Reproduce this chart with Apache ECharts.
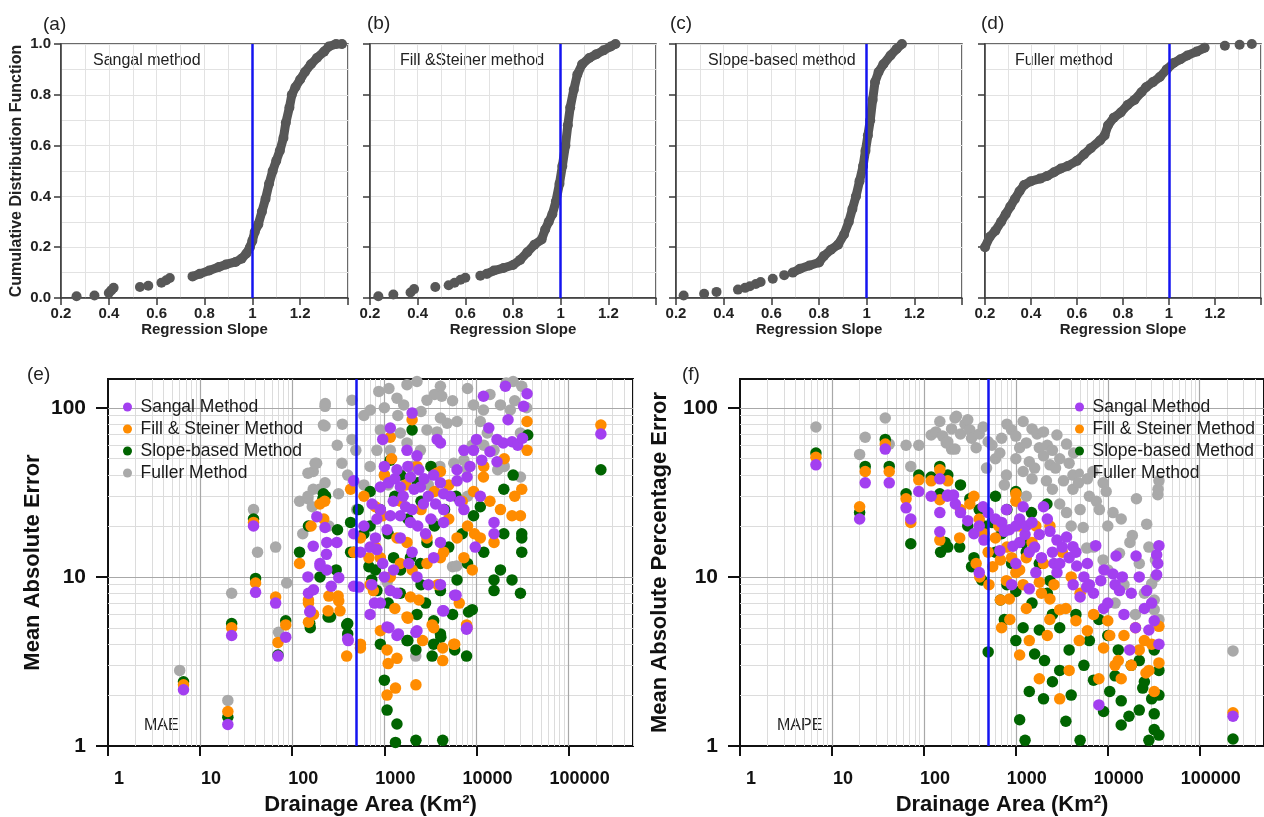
<!DOCTYPE html>
<html lang="en">
<head>
<meta charset="UTF-8">
<title>Regression slope CDF and errors vs drainage area</title>
<script src="https://cdn.jsdelivr.net/npm/echarts@6.0.0/dist/echarts.min.js"></script>
<style>
  html, body { margin: 0; padding: 0; background: #fff; }
  #chart { width: 1264px; height: 817px; }
</style>
</head>
<body>
<div id="chart"></div>
<script>
// ---- top row: CDF of regression slope (isolated tail dots + dense part) ----
var cdfSangalTail = [[0.265,0.007],[0.34,0.01],[0.40,0.02],[0.41,0.03],[0.42,0.04],[0.53,0.043],[0.565,0.048],[0.62,0.06],[0.64,0.07],[0.655,0.079]];
var cdfSangalCurve = [[0.75,0.085],[0.78,0.095],[0.82,0.108],[0.86,0.122],[0.89,0.132],[0.93,0.142],[0.955,0.155],[0.975,0.175],[0.99,0.2],[1.0,0.225],[1.01,0.26],[1.025,0.29],[1.04,0.34],[1.055,0.39],[1.07,0.45],[1.085,0.5],[1.1,0.54],[1.115,0.58],[1.13,0.63],[1.14,0.69],[1.155,0.75],[1.165,0.8],[1.18,0.83],[1.2,0.86],[1.22,0.89],[1.245,0.92],[1.27,0.945],[1.3,0.97],[1.32,0.99],[1.35,1.0],[1.375,1.0]];

var cdfFillTail = [[0.235,0.007],[0.298,0.014],[0.37,0.022],[0.385,0.035],[0.474,0.043],[0.53,0.05],[0.555,0.06],[0.58,0.072],[0.6,0.08],[0.663,0.088]];
var cdfFillCurve = [[0.69,0.095],[0.72,0.108],[0.76,0.118],[0.8,0.13],[0.83,0.15],[0.86,0.18],[0.89,0.21],[0.92,0.23],[0.935,0.27],[0.95,0.3],[0.965,0.33],[0.98,0.38],[0.995,0.45],[1.007,0.52],[1.02,0.6],[1.03,0.68],[1.04,0.75],[1.055,0.82],[1.07,0.88],[1.09,0.92],[1.12,0.945],[1.15,0.96],[1.18,0.975],[1.21,0.99],[1.23,1.0]];

var cdfSlopeTail = [[0.232,0.01],[0.318,0.017],[0.37,0.024],[0.46,0.033],[0.49,0.04],[0.51,0.046],[0.535,0.055],[0.555,0.063],[0.606,0.076],[0.654,0.09]];
var cdfSlopeCurve = [[0.69,0.1],[0.72,0.115],[0.76,0.128],[0.8,0.14],[0.82,0.165],[0.85,0.19],[0.88,0.21],[0.905,0.25],[0.925,0.3],[0.94,0.35],[0.955,0.4],[0.97,0.46],[0.985,0.52],[0.995,0.58],[1.005,0.64],[1.015,0.7],[1.025,0.78],[1.035,0.85],[1.05,0.89],[1.07,0.92],[1.1,0.955],[1.125,0.98],[1.148,1.0]];

var cdfFullerTail = [[1.243,0.993],[1.307,0.997],[1.36,1.0]];
var cdfFullerCurve = [[0.2,0.2],[0.22,0.24],[0.245,0.265],[0.27,0.3],[0.29,0.33],[0.31,0.36],[0.33,0.39],[0.35,0.42],[0.37,0.445],[0.4,0.46],[0.44,0.47],[0.47,0.48],[0.5,0.495],[0.53,0.51],[0.56,0.52],[0.6,0.54],[0.63,0.565],[0.66,0.59],[0.7,0.62],[0.72,0.64],[0.735,0.68],[0.76,0.71],[0.79,0.73],[0.82,0.76],[0.85,0.78],[0.88,0.81],[0.9,0.83],[0.93,0.85],[0.96,0.87],[0.99,0.9],[1.02,0.925],[1.05,0.94],[1.08,0.955],[1.12,0.97],[1.155,0.985]];

// ---- (e) MAE vs drainage area [area km2, error] ----
var maeFuller = [[6,2.8],[20,1.86],[22,8.0],[38,25],[42,14],[66,15],[71,4.7],[87,9.2],[120,28],[130,18],[148,29],[165,26],[169,42],[169,33],[184,47],[227,102],[227,78],[227,36],[228,106],[218,79],[250,20],[308,60],[177,47],[148,41],[318,31],[198,33],[350,80],[400,40],[445,111],[445,65],[490,56],[346,47],[500,25],[148,30],[600,35],[600,90],[700,45],[705,97],[905,74],[830,56],[1000,40],[1000,100],[1070,9.3],[1100,35],[1160,56],[1400,90],[1490,71],[1500,30],[1760,62],[1900,38],[2000,45],[2190,3.4],[2460,56],[2500,95],[2900,74],[3000,35],[3400,21],[3500,120],[3740,72],[4000,45],[4800,81],[5500,11.5],[5500,110],[5670,47],[6100,11.6],[7300,49],[7900,44],[8000,30],[8000,130],[9000,60],[870,125],[1120,130],[1370,114],[1760,137],[2260,143],[1620,104],[2900,111],[4060,134],[4200,117],[4060,87],[6150,83],[9300,104],[11000,83],[11900,97],[12000,60],[13100,71],[14000,120],[15500,56],[17000,43],[18200,104],[20000,45],[21000,140],[23300,97],[25000,143],[26000,110],[30000,71],[30000,39],[31000,134],[35000,100]];
var maeSlope = [[6.6,2.4],[20,1.48],[22,5.3],[38,22],[40,9.8],[70,3.45],[85,5.5],[120,14],[150,20],[155,5.3],[157,5],[200,10],[215,29],[218,31],[230,30],[245,5.8],[260,5.8],[300,11],[310,19],[390,5.2],[400,5.3],[400,4.6],[430,21],[430,14],[465,14],[520,25],[600,18],[680,11.5],[700,32],[700,20],[730,9.6],[800,11],[830,8.3],[900,25],[905,4],[1000,2.45],[1070,1.63],[1100,18],[1100,7],[1160,49],[1260,13],[1300,30],[1320,1.05],[1370,1.35],[1490,8],[1500,11],[1500,40],[1760,4.2],[1800,4.2],[1800,22],[1920,13],[2000,74],[2200,1.08],[2200,3.7],[2260,6],[2300,36],[2460,12],[2500,28],[2500,9],[2800,7],[2900,16],[3200,45],[3300,3.4],[3430,5.5],[3430,4],[3500,20],[4060,8.3],[4060,4.6],[4100,4.4],[4300,1.08],[4500,25],[5000,15],[5500,6],[5800,3.7],[6000,30],[6150,9.6],[7000,18],[7800,3.4],[8000,12],[8200,6.2],[9000,6.4],[9300,23],[11000,26],[12000,14],[15500,9.6],[15500,8.3],[18200,11],[19800,33],[19800,18],[24300,9.6],[25000,40],[30000,8],[31000,18],[31000,17],[31000,14],[36000,69],[224000,43]];
var maeFill = [[6.6,2.3],[20,1.6],[22,5.0],[38,21],[40,9.2],[66,7.6],[70,4.1],[85,5.2],[120,12],[150,7],[150,5.4],[150,7.3],[160,20],[170,6],[200,27],[220,22],[225,28],[245,6.3],[250,7.7],[315,7.7],[320,7.2],[330,6.3],[390,3.4],[430,33],[465,14],[550,3.8],[550,17],[550,4],[600,30],[680,13],[700,9],[760,8.3],[800,26],[800,15],[905,13],[905,4.8],[960,23],[1000,40],[1070,3.7],[1070,2.0],[1100,3.07],[1160,67],[1160,10],[1200,50],[1300,6.5],[1320,2.2],[1370,3.3],[1370,17],[1490,12],[1500,28],[1700,35],[1760,16],[1760,5.8],[1800,5.7],[1920,7.6],[2000,85],[2000,11],[2200,2.3],[2260,45],[2370,7.3],[2500,25],[2600,4.2],[2900,17],[2900,12],[3300,5.2],[3430,5],[3500,32],[3700,41],[3800,9],[4060,42],[4060,13],[4300,3.2],[4300,3.8],[4400,14],[5000,22],[5000,35],[5670,4.0],[5800,4.0],[6150,17],[6500,7],[7000,28],[7300,13],[7800,5.2],[7900,5],[8000,20],[9000,11],[9300,32],[9500,18],[11000,17],[11900,39],[12000,45],[14000,28],[15500,16],[18200,25],[20000,50],[24300,23],[26000,30],[30000,23],[31000,33],[35400,83],[35400,56],[224000,79]];
var maeSangal = [[6.6,2.15],[20,1.34],[22,4.5],[38,20],[40,8.1],[66,7.0],[70,3.4],[85,4.4],[148,10],[150,8],[155,6.2],[157,6.3],[169,15.2],[170,8.4],[185,22.7],[200,12],[200,11.6],[227,19.6],[235,13.6],[237,16],[237,11],[265,8.8],[305,16],[320,9.9],[400,4.3],[405,4.2],[465,37],[465,18],[465,8.8],[530,8.7],[550,14],[600,20],[700,6],[700,15],[730,9],[735,27],[780,7],[800,17],[830,22],[830,14.5],[905,34],[905,25],[905,7],[960,65],[960,12],[1000,45],[1000,10],[1070,19],[1070,5.06],[1110,36],[1120,5],[1160,76],[1160,23],[1160,8.3],[1250,28],[1260,11],[1300,38],[1370,43],[1370,8],[1370,4.5],[1420,4.6],[1490,34],[1490,23],[1490,17],[1600,30],[1700,26],[1760,56],[1800,45],[1840,12],[1920,39],[1920,21],[2000,93],[2000,25],[2000,14],[2100,33],[2200,4.7],[2260,52],[2260,10],[2260,4.8],[2300,20],[2370,43],[2460,34],[2650,27],[2700,38],[2800,18],[3000,30],[3000,9],[3200,22],[3430,40],[3430,13],[3600,27],[3740,65],[4060,62],[4060,36],[4060,16],[4060,9],[4300,6.3],[4400,31],[4400,25],[4400,21],[4400,6.3],[5200,30],[5800,7.8],[6000,7.8],[6150,43],[6150,37],[6600,28],[7300,56],[7300,25],[7800,4.9],[7900,39],[7900,5],[8500,45],[9300,56],[9700,15],[10000,65],[11000,30],[11400,49],[11900,117],[13600,76],[14000,55],[15500,21],[15500,18],[16700,65],[16700,48],[19500,62],[20600,134],[22000,85],[24300,63],[28000,60],[31600,66],[32500,102],[35400,121],[224000,70]];

// ---- (f) MAPE vs drainage area [area km2, error %] ----
var mapeFuller = [[6.7,77],[20,53],[23,67],[38,87],[42,61],[64,60],[72,45],[88,60],[120,69],[135,72],[149,83],[160,68],[175,62],[182,63],[200,57],[200,75],[218,87],[218,57],[226,89],[250,70],[280,80],[300,85],[316,74],[330,66],[370,58],[400,70],[441,77],[480,44],[500,63],[550,60],[600,50],[670,54],[700,66],[750,35],[790,40],[800,80],[900,74],[1000,50],[1000,68],[1100,58],[1200,83],[1200,42],[1300,62],[1300,30],[1400,48],[1500,38],[1500,75],[1600,44],[1700,70],[1800,58],[2000,72],[2000,52],[2150,37],[2200,60],[2350,46],[2500,33],[2500,56],[2700,44],[2800,69],[3000,27],[3000,50],[3300,37],[3560,61],[3560,24],[3800,47],[4000,20],[4180,40],[4180,33],[4250,54],[4800,36],[5000,25],[5400,19.6],[5900,14.8],[6000,38],[6300,30],[6900,42],[7000,15],[7500,28],[8100,25],[8900,36],[8900,12.6],[9600,32],[10000,11],[10000,20],[11400,24],[12000,7],[13400,13.8],[14000,22],[15000,9],[17400,16],[18500,17.6],[20000,6],[20500,29],[22000,12],[25000,8],[26500,20.5],[28000,15],[30000,9.1],[32000,7.3],[32000,6.4],[33000,12.6],[33000,10],[35000,30.6],[35200,33],[36000,37],[36000,5.6],[230000,3.65]];
var mapeSlope = [[6.7,54],[20,24],[23,45],[38,65],[42,45],[64,31],[72,15.7],[88,40],[120,39],[149,45],[149,31],[152,14],[170,16],[182,40],[182,15],[245,15],[250,35],[300,20],[316,29],[330,11.5],[350,13],[400,25],[425,9.6],[450,20],[500,3.6],[550,21],[600,14],[600,30],[680,7.3],[700,18],[750,5.6],[800,9],[800,25],[900,12],[1000,32],[1000,8.2],[1000,4.2],[1100,1.43],[1200,16],[1200,5],[1260,1.08],[1300,14],[1400,2.1],[1480,24],[1500,7],[1600,3.5],[1800,12],[1800,4.85],[2000,1.9],[2050,3.2],[2180,27],[2200,8],[2350,9.5],[2500,6],[2500,2.4],[3000,2.8],[3000,5],[3500,1.4],[3800,3.7],[4000,2],[4500,6],[5000,1.08],[5500,3],[6300,4.2],[7000,2.45],[8000,5.6],[9000,1.6],[10000,4.5],[10500,2.1],[12000,2.6],[13000,3.7],[14000,1.85],[14000,1.33],[17000,1.5],[18000,3],[22000,1.63],[22000,3.2],[24000,2.2],[25000,2.4],[28000,1.08],[30000,1.9],[32000,1.55],[32000,1.25],[32000,3.7],[36000,1.16],[36000,2.0],[36000,2.8],[230000,1.1]];
var mapeFill = [[6.7,51],[20,26],[23,42],[38,61],[42,42],[64,29],[72,21],[88,37.5],[120,37],[149,43],[149,28.6],[149,16.5],[182,37],[245,17],[250,25],[316,27],[350,30],[370,12],[400,22],[405,10],[450,18],[500,14],[510,9],[560,11.5],[600,17],[650,20],[680,7.3],[680,12.6],[700,5],[790,9.5],[800,15],[850,7.4],[860,5.6],[900,13],[1000,28],[1000,31],[1000,10.6],[1100,20],[1100,11],[1100,3.45],[1200,9],[1300,13],[1300,6.5],[1400,4.2],[1500,16],[1650,20],[1800,9.3],[1800,2.5],[1900,8],[2000,12],[2200,4.5],[2340,5.6],[2350,20],[2350,7.4],[2600,9],[3000,6.4],[3000,1.9],[3200,14],[3500,6.5],[3800,2.8],[4000,10],[4500,5.5],[4900,4.2],[5000,8],[6000,4.8],[7000,6],[8000,2.5],[9000,3.8],[10000,5.5],[10500,4.5],[12000,3],[13000,3.2],[14000,2.5],[15000,4.5],[18000,3],[20000,5],[22000,3.7],[25000,4.2],[26000,2.7],[28000,2.8],[30000,4],[32000,2.1],[36000,3.1],[36000,5.1],[230000,1.57]];
var mapeSangal = [[6.7,46],[20,22],[23,36],[38,57],[42,36],[64,25.6],[72,22],[88,32],[120,30],[149,38],[149,18.5],[149,24],[180,30],[182,30.5],[210,30.5],[220,27],[250,24],[300,21.5],[350,18],[400,20],[400,10.6],[440,26],[450,16.5],[500,24],[600,22],[670,14.3],[700,21],[750,18.6],[790,25],[850,19],[900,9],[930,15.2],[1000,20],[1000,12],[1100,22],[1100,16],[1200,26],[1260,17.8],[1300,20],[1400,14],[1400,8.5],[1500,21],[1600,15],[1650,10.6],[1800,17.8],[1900,13],[2000,26],[2200,22],[2350,18.6],[2500,14],[2600,12],[2800,16.5],[2800,10.6],[3000,12],[3200,15],[3560,17.2],[3800,13],[4180,15.1],[4200,9],[4500,14],[4600,11.6],[5000,7.6],[5500,10],[5900,8.7],[6000,12],[6300,9],[7000,8],[7400,15.3],[8000,1.75],[8400,9.5],[9000,6.5],[9100,11],[10000,7],[11400,10.4],[12000,9],[12300,13.3],[13400,8.3],[14400,10],[15000,6],[17300,3.7],[18000,8],[20000,5],[20300,13.3],[22000,10],[25000,6.5],[26500,8.3],[28000,4.85],[30000,7],[32000,5.5],[34000,10.3],[34000,13.5],[35000,12],[36000,15.3],[36000,4],[230000,1.5]];

// ---- axis ticks ----
var slopeTickMax = 1.4;
var areaTicks = [1, 10, 100, 1000, 10000, 100000];
var errTicks = [1, 10, 100];
var areaMinor = [];
for (var p = 1; p <= 100000; p *= 10) {
  for (var k = 2; k <= 9; k++) { if (k * p <= 500000) areaMinor.push(k * p); }
}
var errMinor = [2, 3, 4, 5, 6, 7, 8, 9, 20, 30, 40, 50, 60, 70, 80, 90];

var FONT = '"Liberation Sans", Arial, Helvetica, sans-serif';
var names = ['Sangal Method', 'Fill & Steiner Method', 'Slope-based Method', 'Fuller Method'];
var colors = { sangal: '#a33ff0', fill: '#ff8c00', slope: '#006400', fuller: '#a9a9a9' };

var myChart = echarts.init(document.getElementById('chart'));

var grids = [], xAxes = [], yAxes = [], series = [];

// top row
var topLeft = [61, 370, 676, 985];
var topWidth = [287, 286, 286, 286];
var cdfs = [
  [cdfSangalTail, cdfSangalCurve],
  [cdfFillTail, cdfFillCurve],
  [cdfSlopeTail, cdfSlopeCurve],
  [cdfFullerTail, cdfFullerCurve]
];
for (var i = 0; i < 4; i++) {
  grids.push({ left: topLeft[i], top: 44, width: topWidth[i], height: 254,
    show: true, borderColor: '#3a3a3a', borderWidth: 1.5 });
  xAxes.push({
    type: 'value', gridIndex: i, min: 0.2, max: slopeTickMax, interval: 0.2,
    axisLine: { show: true, lineStyle: { color: '#3a3a3a', width: 1.5 } },
    axisTick: { show: true, length: 7, lineStyle: { color: '#3a3a3a', width: 1.5 } },
    axisLabel: { fontSize: 15, fontWeight: 'bold', color: '#222', margin: 8,
      formatter: function (v) { return v > 1.35 ? '' : String(Math.round(v * 10) / 10); } },
    splitLine: { show: true, lineStyle: { color: '#e2e2e2', width: 1 } },
    minorTick: { show: false, splitNumber: 2 },
    minorSplitLine: { show: true, lineStyle: { color: '#e2e2e2', width: 1 } },
    name: 'Regression Slope', nameLocation: 'middle', nameGap: 23,
    nameTextStyle: { fontSize: 15, fontWeight: 'bold', color: '#222' }
  });
  yAxes.push({
    type: 'value', gridIndex: i, min: 0, max: 1, interval: 0.2,
    axisLine: { show: true, lineStyle: { color: '#3a3a3a', width: 1.5 } },
    axisTick: { show: true, length: 7, lineStyle: { color: '#3a3a3a', width: 1.5 } },
    axisLabel: { show: i === 0, fontSize: 15, fontWeight: 'bold', color: '#222', margin: 10,
      formatter: function (v) { return v.toFixed(1); } },
    splitLine: { show: true, lineStyle: { color: '#e2e2e2', width: 1 } },
    minorTick: { show: false, splitNumber: 2 },
    minorSplitLine: { show: true, lineStyle: { color: '#e2e2e2', width: 1 } },
    name: i === 0 ? 'Cumulative Distribution Function' : '',
    nameLocation: 'middle', nameGap: 36,
    nameTextStyle: { fontSize: 16, fontWeight: 'bold', color: '#222' }
  });
  series.push({
    type: 'line', xAxisIndex: i, yAxisIndex: i, data: cdfs[i][1],
    symbol: 'circle', symbolSize: 10, showSymbol: true, showAllSymbol: true,
    itemStyle: { color: '#575757' },
    lineStyle: { color: '#575757', width: 9, cap: 'round', join: 'round' },
    silent: true, animation: false, z: 3,
    markLine: { silent: true, symbol: ['none', 'none'], label: { show: false }, z: 10,
      animation: false, lineStyle: { color: '#1414f0', width: 2.5, type: 'solid' },
      data: [{ xAxis: 1 }] }
  });
  series.push({
    type: 'scatter', xAxisIndex: i, yAxisIndex: i, data: cdfs[i][0],
    symbolSize: 10, itemStyle: { color: '#575757', opacity: 1 },
    silent: true, animation: false, z: 3
  });
}

// bottom row
var botLeft = [108, 740];
var botWidth = [525, 525];
var yNames = ['Mean Absolute Error', 'Mean Absolute Percentage Error'];
var yNameGap = [64, 69];
var botData = [
  [maeFuller, maeSlope, maeFill, maeSangal],
  [mapeFuller, mapeSlope, mapeFill, mapeSangal]
];
for (var j = 0; j < 2; j++) {
  var gi = 4 + j;
  grids.push({ left: botLeft[j], top: 379, width: botWidth[j], height: 367,
    show: true, borderColor: '#111', borderWidth: 2 });
  xAxes.push({
    type: 'log', logBase: 10, gridIndex: gi, min: 1, max: 500000,
    axisLine: { show: true, lineStyle: { color: '#111', width: 2 } },
    axisTick: { show: true, length: 10, customValues: areaTicks, lineStyle: { color: '#111', width: 2 } },
    axisLabel: { customValues: areaTicks, fontSize: 18, fontWeight: 'bold', color: '#111',
      margin: 24, padding: [0, 0, 0, 22],
      formatter: function (v) { return String(Math.round(v)); } },
    splitLine: { show: false },
    name: 'Drainage Area (Km\u00B2)', nameLocation: 'middle', nameGap: 48,
    nameTextStyle: { fontSize: 22, fontWeight: 'bold', color: '#111' }
  });
  yAxes.push({
    type: 'log', logBase: 10, gridIndex: gi, min: 1, max: 148,
    axisLine: { show: true, lineStyle: { color: '#111', width: 2 } },
    axisTick: { show: true, length: 12, customValues: errTicks, lineStyle: { color: '#111', width: 2 } },
    axisLabel: { customValues: errTicks, fontSize: 21, fontWeight: 'bold', color: '#111', margin: 22,
      formatter: function (v) { return String(Math.round(v)); } },
    splitLine: { show: false },
    name: yNames[j], nameLocation: 'middle', nameGap: yNameGap[j],
    nameTextStyle: { fontSize: 22, fontWeight: 'bold', color: '#111' }
  });

  // grid lines (decades darker, in-between lighter)
  var gl = [];
  areaMinor.forEach(function (v) { gl.push({ xAxis: v, lineStyle: { color: '#dcdcdc', width: 1 } }); });
  errMinor.forEach(function (v) { gl.push({ yAxis: v, lineStyle: { color: '#dcdcdc', width: 1 } }); });
  areaTicks.slice(1).forEach(function (v) { gl.push({ xAxis: v, lineStyle: { color: '#a8a8a8', width: 1.2 } }); });
  errTicks.slice(1).forEach(function (v) { gl.push({ yAxis: v, lineStyle: { color: '#a8a8a8', width: 1.2 } }); });
  series.push({
    type: 'scatter', xAxisIndex: gi, yAxisIndex: gi, data: [], silent: true, z: 1,
    markLine: { silent: true, symbol: ['none', 'none'], label: { show: false }, z: 1,
      animation: false, lineStyle: { type: 'solid' }, data: gl }
  });

  var order = [
    [names[3], colors.fuller], [names[2], colors.slope],
    [names[1], colors.fill], [names[0], colors.sangal]
  ];
  for (var s = 0; s < 4; s++) {
    series.push({
      type: 'scatter', name: order[s][0], xAxisIndex: gi, yAxisIndex: gi,
      data: botData[j][s], symbolSize: 11.5,
      itemStyle: { color: order[s][1], opacity: 1 },
      silent: true, animation: false, z: 3 + s
    });
  }
  series.push({
    type: 'scatter', xAxisIndex: gi, yAxisIndex: gi, data: [], silent: true, z: 10,
    markLine: { silent: true, symbol: ['none', 'none'], label: { show: false }, z: 10,
      animation: false, lineStyle: { color: '#1414f0', width: 2.5, type: 'solid' },
      data: [{ xAxis: 500 }] }
  });
}

function txt(t, left, top, size) {
  return { type: 'text', left: left, top: top, silent: true,
    style: { text: t, fontSize: size, fontFamily: FONT, fill: '#222' } };
}

var legendBase = {
  orient: 'vertical', top: 393, icon: 'circle', itemWidth: 16, itemHeight: 9, itemGap: 4,
  selectedMode: false, data: names,
  textStyle: { fontSize: 17.5, color: '#1a1a1a' }
};

var option = {
  backgroundColor: '#fff',
  animation: false,
  textStyle: { fontFamily: FONT },
  grid: grids,
  xAxis: xAxes,
  yAxis: yAxes,
  legend: [
    Object.assign({}, legendBase, { left: 118 }),
    Object.assign({}, legendBase, { left: 1070 })
  ],
  graphic: [
    txt('(a)', 43, 15, 19), txt('(b)', 367, 14, 19), txt('(c)', 670, 14, 19), txt('(d)', 981, 14, 19),
    txt('(e)', 27, 365, 19), txt('(f)', 682, 365, 19),
    txt('Sangal method', 93, 53, 16), txt('Fill &Steiner method', 400, 53, 16),
    txt('Slope-based method', 708, 53, 16), txt('Fuller method', 1015, 53, 16),
    txt('MAE', 144, 718, 16), txt('MAPE', 777, 718, 16)
  ],
  series: series
};

myChart.setOption(option);
</script>
</body>
</html>
